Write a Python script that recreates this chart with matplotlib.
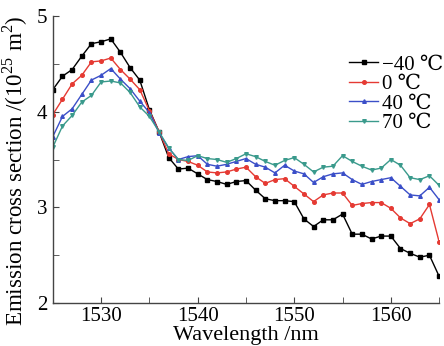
import numpy as np
import matplotlib
matplotlib.use("Agg")
import matplotlib.pyplot as plt

plt.rcParams["font.family"] = ["Liberation Serif", "DejaVu Serif", "DejaVu Sans"]
plt.rcParams["mathtext.fontset"] = "custom"
plt.rcParams["mathtext.rm"] = "Liberation Serif"

# wavelength, nm
wl = np.arange(1525, 1566)

# emission cross section (10^25 m^2)
m40 = [4.23, 4.37, 4.44, 4.58, 4.71, 4.73, 4.76, 4.62, 4.46, 4.33,
       4.02, 3.79, 3.52, 3.40, 3.41, 3.35, 3.29, 3.27, 3.24, 3.27,
       3.28, 3.18, 3.09, 3.07, 3.07, 3.06, 2.88, 2.80, 2.87, 2.87,
       2.93, 2.72, 2.72, 2.67, 2.70, 2.70, 2.57, 2.52, 2.48, 2.50, 2.28]
p0 = [3.97, 4.13, 4.29, 4.38, 4.52, 4.53, 4.56, 4.44, 4.34, 4.23,
      4.01, 3.79, 3.56, 3.50, 3.48, 3.44, 3.37, 3.36, 3.37, 3.40,
      3.42, 3.32, 3.25, 3.29, 3.30, 3.22, 3.14, 3.06, 3.13, 3.15,
      3.15, 3.02, 3.04, 3.05, 3.05, 2.99, 2.89, 2.83, 2.88, 3.03, 2.64]
p40 = [3.74, 3.95, 4.03, 4.18, 4.33, 4.38, 4.45, 4.34, 4.24, 4.11,
       3.99, 3.78, 3.62, 3.50, 3.53, 3.54, 3.45, 3.43, 3.45, 3.48,
       3.51, 3.45, 3.42, 3.36, 3.44, 3.38, 3.35, 3.26, 3.32, 3.35,
       3.36, 3.29, 3.24, 3.27, 3.29, 3.31, 3.22, 3.13, 3.12, 3.21, 3.08]
p70 = [3.63, 3.85, 3.96, 4.10, 4.17, 4.31, 4.32, 4.30, 4.20, 4.05,
       3.95, 3.79, 3.62, 3.50, 3.49, 3.54, 3.51, 3.50, 3.47, 3.51,
       3.56, 3.53, 3.48, 3.44, 3.49, 3.52, 3.45, 3.37, 3.42, 3.43,
       3.54, 3.48, 3.43, 3.39, 3.41, 3.50, 3.44, 3.31, 3.29, 3.33, 3.23]

labels = ["\u221240 \u2103", "0 \u2103", "40 \u2103", "70 \u2103"]
colors = ["black", "#e53a33", "#3b4fc8", "#3a9a8c"]
markers = ["s", "o", "^", "v"]

fig = plt.figure(figsize=(4.44, 3.46), dpi=100)
ax = fig.add_axes([0.119, 0.124, 0.870, 0.830])

for y, c, m, lab in zip([m40, p0, p40, p70], colors, markers, labels):
    ax.plot(wl, y, color=c, marker=m, markersize=2.6, linewidth=1.0, label=lab)

ax.set_xlim(1525, 1565)
ax.set_ylim(2, 5)
ax.set_xticks([1530, 1540, 1550, 1560])
ax.set_xticks([1535, 1545, 1555, 1565], minor=True)
ax.set_yticks([2, 3, 4, 5])
ax.set_yticks([2.5, 3.5, 4.5], minor=True)

for s in ["top", "right"]:
    ax.spines[s].set_visible(False)
for s in ["left", "bottom"]:
    ax.spines[s].set_color("#444444")
    ax.spines[s].set_linewidth(1.0)
ax.tick_params(which="both", direction="in", length=4, color="#444444", labelsize=15)
ax.tick_params(axis="x", pad=3)
ax.tick_params(axis="y", pad=4)

ax.set_xlabel("Wavelength /nm", fontsize=16, labelpad=0)
ax.set_ylabel("Emission cross section /(10$^{25}$ m$^{2}$)", fontsize=16.6)
ax.yaxis.set_label_coords(-0.058, 0.46)

ax.legend(loc="upper left", bbox_to_anchor=(0.767, 0.864), frameon=False,
          fontsize=15, handlelength=1.4, handletextpad=0.2, labelspacing=0.0,
          borderpad=0, borderaxespad=0)

fig.savefig("out.png", dpi=100)
